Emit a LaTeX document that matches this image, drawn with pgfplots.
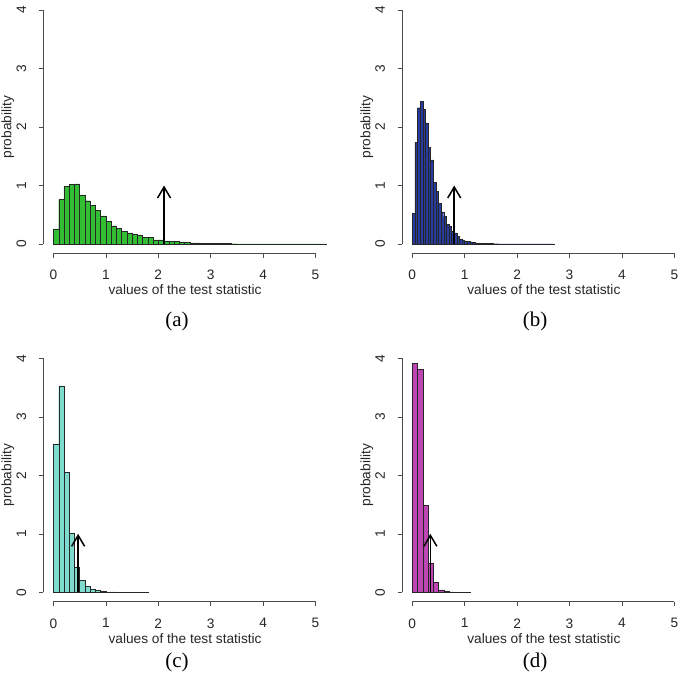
\documentclass[border=0pt]{standalone}
\usepackage{pgfplots}
\pgfplotsset{compat=1.18}
\usetikzlibrary{arrows.meta}
\usepackage{fontspec}
\setmainfont{Liberation Sans}
\newfontfamily\serif{Liberation Serif}
\definecolor{cgreen}{RGB}{50,190,50}
\definecolor{cblue}{RGB}{40,60,160}
\definecolor{ccyan}{RGB}{125,220,205}
\definecolor{cmag}{RGB}{190,70,180}
\newcommand{\lblfont}{\fontsize{13.7}{16}\selectfont}
\pgfplotsset{
 rstyle/.style={
  scale only axis, width=283pt, height=252.7pt,
  xmin=-0.2, xmax=5.2, ymin=-0.16, ymax=4.16,
  axis lines*=left, axis line style={draw=none},
  xtick={0,1,2,3,4,5}, ytick={0,1,2,3,4},
  tick align=outside, major tick length=4.3pt,
  tick style={black!70, line width=0.6pt},
  clip=false,
  /pgf/number format/assume math mode=true,
  ticklabel style={font=\lblfont, text=black!85},
  yticklabel style={rotate=90, anchor=south},
  xticklabel shift=9pt, yticklabel shift=9pt,
  xlabel={values of the test statistic}, ylabel={probability},
  label style={font=\lblfont, text=black!85},
  xlabel style={at={(axis description cs:0.502,-0.145)}, anchor=center},
  ylabel style={at={(axis description cs:-0.124,0.5)}, anchor=center, rotate=0},
 },
 hbar/.style={ybar interval, fill=#1, draw=black!85, line width=0.4pt},
 arr/.style={black, line width=1.5pt, -{Straight Barb[length=11pt,width=13pt]}},
 axl/.style={black!70, line width=0.6pt},
}
\begin{document}
\begin{tikzpicture}
\path[use as bounding box] (0,0) rectangle (685pt,677pt);
% (a)
\begin{axis}[rstyle, at={(43pt,423.6pt)}, anchor=south west]
\addplot[hbar=cgreen] coordinates {
(0.0,0.26) (0.1,0.76) (0.2,0.99) (0.3,1.02) (0.4,1.03) (0.5,0.84) (0.6,0.74) (0.7,0.66)
(0.8,0.57) (0.9,0.48) (1.0,0.39) (1.1,0.31) (1.2,0.27) (1.3,0.22) (1.4,0.19) (1.5,0.16)
(1.6,0.15) (1.7,0.12) (1.8,0.11) (1.9,0.07) (2.0,0.07) (2.1,0.05) (2.2,0.05) (2.3,0.04)
(2.4,0.035) (2.5,0.03) (2.6,0.02) (2.7,0.02) (2.8,0.015) (2.9,0.012) (3.0,0.01) (3.1,0.009)
(3.2,0.008) (3.3,0.008) (3.4,0.005) (3.5,0.004) (3.6,0.004) (3.7,0.003) (3.8,0.003) (3.9,0.003)
(4.0,0.002) (4.1,0.002) (4.2,0.002) (4.3,0.002) (4.4,0.001) (4.5,0.001) (4.6,0.001) (4.7,0.001)
(4.8,0.001) (4.9,0.001) (5.0,0.001) (5.1,0.001) (5.2,0)};
\addplot[arr] coordinates {(2.11,0) (2.11,1.0)};
\addplot[axl] coordinates {(0,-0.16) (5,-0.16)};
\addplot[axl] coordinates {(-0.2,0) (-0.2,4)};
\end{axis}
% (b)
\begin{axis}[rstyle, at={(401.8pt,423.6pt)}, anchor=south west]
\addplot[hbar=cblue] coordinates {
(0.00,0.53) (0.05,1.74) (0.10,2.33) (0.15,2.44) (0.20,2.30) (0.25,2.07) (0.30,1.65) (0.35,1.44)
(0.40,1.05) (0.45,0.90) (0.50,0.69) (0.55,0.55) (0.60,0.47) (0.65,0.34) (0.70,0.30) (0.75,0.22)
(0.80,0.19) (0.85,0.13) (0.90,0.09) (0.95,0.07) (1.00,0.05) (1.05,0.04) (1.10,0.035) (1.15,0.025)
(1.20,0.02) (1.25,0.015) (1.30,0.012) (1.35,0.01) (1.40,0.008) (1.45,0.007) (1.50,0.006) (1.55,0.005)
(1.60,0.005) (1.65,0.004) (1.70,0.004) (1.75,0.003) (1.80,0.003) (1.85,0.003) (1.90,0.002) (1.95,0.002)
(2.00,0.002) (2.05,0.002) (2.10,0.002) (2.15,0.001) (2.20,0.001) (2.25,0.001) (2.30,0.001) (2.35,0.001)
(2.40,0.001) (2.45,0.001) (2.50,0.001) (2.55,0.001) (2.60,0.001) (2.65,0.001) (2.70,0)};
\addplot[arr] coordinates {(0.80,0) (0.80,1.0)};
\addplot[axl] coordinates {(0,-0.16) (5,-0.16)};
\addplot[axl] coordinates {(-0.2,0) (-0.2,4)};
\end{axis}
% (c)
\begin{axis}[rstyle, at={(43pt,75.3pt)}, anchor=south west]
\addplot[hbar=ccyan] coordinates {
(0.0,2.54) (0.1,3.53) (0.2,2.05) (0.3,1.01) (0.4,0.43) (0.5,0.21) (0.6,0.10) (0.7,0.05)
(0.8,0.03) (0.9,0.015) (1.0,0.01) (1.1,0.008) (1.2,0.005) (1.3,0.003) (1.4,0.002) (1.5,0.002)
(1.6,0.001) (1.7,0.001) (1.8,0)};
\addplot[arr] coordinates {(0.47,0) (0.47,1.0)};
\addplot[axl] coordinates {(0,-0.16) (5,-0.16)};
\addplot[axl] coordinates {(-0.2,0) (-0.2,4)};
\end{axis}
% (d)
\begin{axis}[rstyle, at={(401.8pt,75.3pt)}, anchor=south west]
\addplot[hbar=cmag] coordinates {
(0.0,3.92) (0.1,3.81) (0.2,1.49) (0.3,0.49) (0.4,0.17) (0.5,0.04) (0.6,0.02) (0.7,0.008)
(0.8,0.004) (0.9,0.002) (1.0,0.001) (1.1,0)};
\addplot[arr] coordinates {(0.345,0) (0.345,1.0)};
\addplot[axl] coordinates {(0,-0.16) (5,-0.16)};
\addplot[axl] coordinates {(-0.2,0) (-0.2,4)};
\end{axis}
\node[font=\serif\fontsize{21}{24}\selectfont] at (177pt,356pt) {(a)};
\node[font=\serif\fontsize{21}{24}\selectfont] at (535pt,356pt) {(b)};
\node[font=\serif\fontsize{21}{24}\selectfont] at (177pt,15pt) {(c)};
\node[font=\serif\fontsize{21}{24}\selectfont] at (535pt,15pt) {(d)};
\end{tikzpicture}
\end{document}
